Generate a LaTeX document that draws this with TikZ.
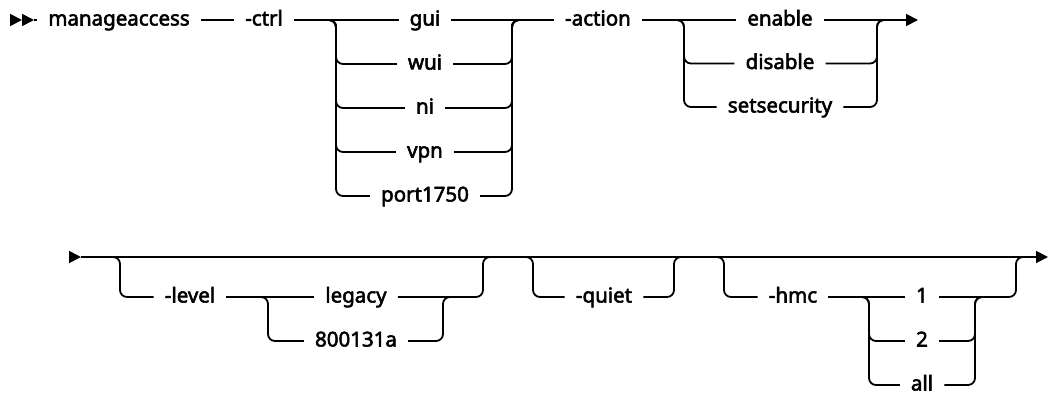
\documentclass[tikz,border=0pt]{standalone}
\usepackage{fontspec}
\setmainfont{Noto Sans}
\newfontfamily\railfont{Noto Sans}[FakeBold=2.6]
\usetikzlibrary{arrows.meta}

\begin{document}
\begin{tikzpicture}[x=1pt,y=-1pt,
  rail/.style={line width=1.8pt,rounded corners=7pt},
  kw/.style={font=\railfont\fontsize{20.5}{24}\selectfont,inner sep=0pt,inner xsep=11pt,
    text height=15.5pt,text depth=4.5pt},
  tip/.style={-{Triangle[length=12pt,width=12pt]}}]
\useasboundingbox (0,0) rectangle (1049,395);

% first line
\node[kw] (manage) at (119,20) {manageaccess};
\node[kw] (ctrl) at (264,20) {-ctrl};
\node[kw] (action) at (598,20) {-action};
\foreach \t/\n/\y in {gui/gui/20,wui/wui/64,ni/ni/108,vpn/vpn/152,port1750/port/196}
  \node[kw] (\n) at (425,\y) {\t};
\foreach \t/\n/\y in {enable/en/20,disable/dis/63.5,setsecurity/sec/107}
  \node[kw] (\n) at (780,\y) {\t};

\coordinate (s0) at (10,20);
\coordinate (sm) at (22,20);
\coordinate (s1) at (34,20);
\coordinate (cl) at (336,20);
\coordinate (cr) at (512,20);
\coordinate (al) at (684,20);
\coordinate (ar) at (877,20);
\coordinate (ae) at (889,20);
\coordinate (e1) at (918,20);

\draw[rail,tip] (s0) -- (sm);
\draw[rail,tip] (sm) -- (s1);
\draw[rail] (s1) -- (manage.west) (manage.east) -- (ctrl.west);
\draw[rail] (ctrl.east) -- (gui.west) (gui.east) -- (action.west);
\foreach \n in {wui,ni,vpn,port}{
  \draw[rail] (ctrl.east) -- (cl) |- (\n.west);
  \draw[rail] (\n.east) -| (cr) -- (action.west);
}
\draw[rail,tip] (action.east) -- (en.west) (en.east) -- (e1);
\foreach \n in {dis,sec}{
  \draw[rail] (action.east) -- (al) |- (\n.west);
  \draw[rail] (\n.east) -| (ar) -- (ae);
}

% second line
\node[kw] (level) at (190,297) {-level};
\node[kw] (legacy) at (356,297) {legacy};
\node[kw] (n800) at (356,341) {800131a};
\node[kw] (quiet) at (604,297) {-quiet};
\node[kw] (hmc) at (793,297) {-hmc};
\foreach \t/\n/\y in {1/h1/297,2/h2/341,all/hall/385}
  \node[kw] (\n) at (922,\y) {\t};

\coordinate (t0) at (69,257);
\coordinate (t1) at (81,257);
\coordinate (t2) at (1048,257);
\coordinate (lvA) at (108,257);
\coordinate (lvIn) at (120,257);
\coordinate (lvOut) at (483,257);
\coordinate (lvB) at (495,257);
\coordinate (liIn) at (268,297);
\coordinate (liOut) at (443,297);
\coordinate (liC) at (455,297);
\coordinate (qA) at (521,257);
\coordinate (qIn) at (533,257);
\coordinate (qOut) at (674,257);
\coordinate (qB) at (686,257);
\coordinate (hA) at (712,257);
\coordinate (hIn) at (724,257);
\coordinate (hOut) at (1016,257);
\coordinate (hB) at (1028,257);
\coordinate (hiIn) at (869,297);
\coordinate (hiOut) at (975,297);
\coordinate (hiC) at (987,297);

\draw[rail,tip] (t0) -- (t1);
\draw[rail,tip] (t1) -- (t2);
% -level
\draw[rail] (lvA) -- (lvIn) |- (level.west);
\draw[rail] (level.east) -- (legacy.west);
\draw[rail] (level.east) -- (liIn) |- (n800.west);
\draw[rail] (legacy.east) -| (lvOut) -- (lvB);
\draw[rail] (n800.east) -| (liOut) -- (liC);
% -quiet
\draw[rail] (qA) -- (qIn) |- (quiet.west);
\draw[rail] (quiet.east) -| (qOut) -- (qB);
% -hmc
\draw[rail] (hA) -- (hIn) |- (hmc.west);
\draw[rail] (hmc.east) -- (h1.west);
\draw[rail] (h1.east) -| (hOut) -- (hB);
\foreach \n in {h2,hall}{
  \draw[rail] (hmc.east) -- (hiIn) |- (\n.west);
  \draw[rail] (\n.east) -| (hiOut) -- (hiC);
}
\end{tikzpicture}
\end{document}
